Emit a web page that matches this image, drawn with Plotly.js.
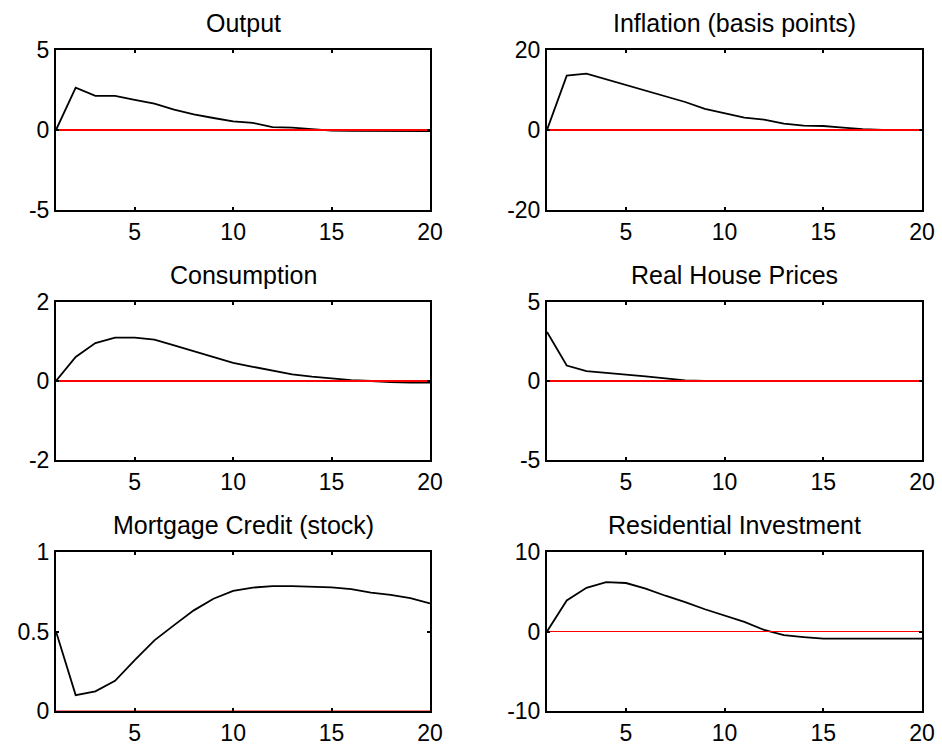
<!DOCTYPE html>
<html>
<head>
<meta charset="utf-8">
<script src="https://cdn.plot.ly/plotly-3.0.1.min.js"></script>
<style>
  html, body { margin: 0; padding: 0; background: #fff; }
  #chart { width: 942px; height: 751px; }
</style>
</head>
<body>
<div id="chart"></div>
<script>
// ---- data ----
const periods = [1,2,3,4,5,6,7,8,9,10,11,12,13,14,15,16,17,18,19,20];

const titles = ["Output", "Inflation (basis points)", "Consumption",
                "Real House Prices", "Mortgage Credit (stock)", "Residential Investment"];

const output      = [0, 2.65, 2.13, 2.13, 1.88, 1.65, 1.27, 0.98, 0.75, 0.54, 0.44, 0.18, 0.15, 0.06, -0.04, -0.06, -0.07, -0.07, -0.07, -0.07];
const inflation   = [0, 13.6, 14.1, 12.7, 11.3, 9.9, 8.5, 7.0, 5.3, 4.2, 3.1, 2.6, 1.6, 1.1, 1.0, 0.6, 0.2, 0.05, 0, 0];
const consumption = [0, 0.61, 0.96, 1.10, 1.10, 1.05, 0.90, 0.75, 0.61, 0.46, 0.36, 0.27, 0.17, 0.11, 0.06, 0.02, 0.0, -0.03, -0.04, -0.04];
const housePrices = [3.1, 0.98, 0.62, 0.52, 0.40, 0.29, 0.17, 0.04, 0, 0, 0, 0, 0, 0, 0, 0, 0, 0, 0, 0];
const mortgage    = [0.50, 0.10, 0.124, 0.19, 0.32, 0.444, 0.54, 0.633, 0.706, 0.755, 0.776, 0.786, 0.786, 0.784, 0.778, 0.767, 0.744, 0.73, 0.71, 0.677];
const resInvest   = [0, 3.9, 5.5, 6.2, 6.1, 5.4, 4.5, 3.7, 2.8, 2.0, 1.2, 0.2, -0.45, -0.7, -0.9, -0.9, -0.9, -0.9, -0.9, -0.9];

const series = [output, inflation, consumption, housePrices, mortgage, resInvest];
const baseline = periods.map(() => 0);

const yRanges = [[-5, 5], [-20, 20], [-2, 2], [-5, 5], [0, 1], [-10, 10]];
const yTicks  = [[-5, 0, 5], [-20, 0, 20], [-2, 0, 2], [-5, 0, 5], [0, 0.5, 1], [-10, 0, 10]];
const xTicks  = [5, 10, 15, 20];

// ---- layout geometry ----
const W = 942, H = 751;
const colDomains = [[56 / W, 430 / W], [547 / W, 922 / W]];
const rowPx = [[50, 210], [302, 460], [552, 711]];
const redWidths = [2, 2, 2, 2, 1, 1];

const fontFam = "Liberation Sans, Arial, sans-serif";
const tickSize = 23, titleSize = 25;
const traces = [];
const layout = {
  width: W, height: H,
  margin: {l: 0, r: 0, t: 0, b: 0},
  paper_bgcolor: "#fff", plot_bgcolor: "#fff",
  showlegend: false,
  font: {family: fontFam, size: tickSize, color: "#000"},
  annotations: []
};

for (let i = 0; i < 6; i++) {
  const n = i + 1;
  const row = Math.floor(i / 2), col = i % 2;
  const xa = "x" + (n === 1 ? "" : n), ya = "y" + (n === 1 ? "" : n);
  const xKey = "xaxis" + (n === 1 ? "" : n), yKey = "yaxis" + (n === 1 ? "" : n);
  const yDom = [1 - rowPx[row][1] / H, 1 - rowPx[row][0] / H];

  traces.push({
    x: periods, y: series[i], xaxis: xa, yaxis: ya,
    type: "scatter", mode: "lines",
    line: {color: "#000", width: 1.8}, hoverinfo: "skip"
  });
  traces.push({
    x: periods, y: baseline, xaxis: xa, yaxis: ya,
    type: "scatter", mode: "lines",
    line: {color: "#ff0000", width: redWidths[i]}, hoverinfo: "skip"
  });

  layout[xKey] = {
    domain: colDomains[col], anchor: ya, range: [1, 20],
    tickmode: "array", tickvals: xTicks, ticktext: xTicks.map(String),
    ticks: "inside", ticklen: 3, tickwidth: 2, tickcolor: "#000",
    showline: true, linecolor: "#000", linewidth: 2, mirror: "allticks",
    showgrid: false, zeroline: false,
    tickfont: {family: fontFam, size: tickSize, color: "#000"}
  };
  layout[yKey] = {
    domain: yDom, anchor: xa, range: yRanges[i],
    tickmode: "array", tickvals: yTicks[i], ticktext: yTicks[i].map(String),
    ticks: "inside", ticklen: 3, tickwidth: 2, tickcolor: "#000",
    showline: true, linecolor: "#000", linewidth: 2, mirror: "allticks",
    showgrid: false, zeroline: false,
    tickfont: {family: fontFam, size: tickSize, color: "#000"}
  };

  layout.annotations.push({
    text: titles[i], xref: "paper", yref: "paper",
    x: (colDomains[col][0] + colDomains[col][1]) / 2,
    y: 1 - (rowPx[row][0] - 27) / H,
    xanchor: "center", yanchor: "middle", showarrow: false,
    font: {family: fontFam, size: titleSize, color: "#000"}
  });
}

Plotly.newPlot("chart", traces, layout, {staticPlot: true, displayModeBar: false});
</script>
</body>
</html>
